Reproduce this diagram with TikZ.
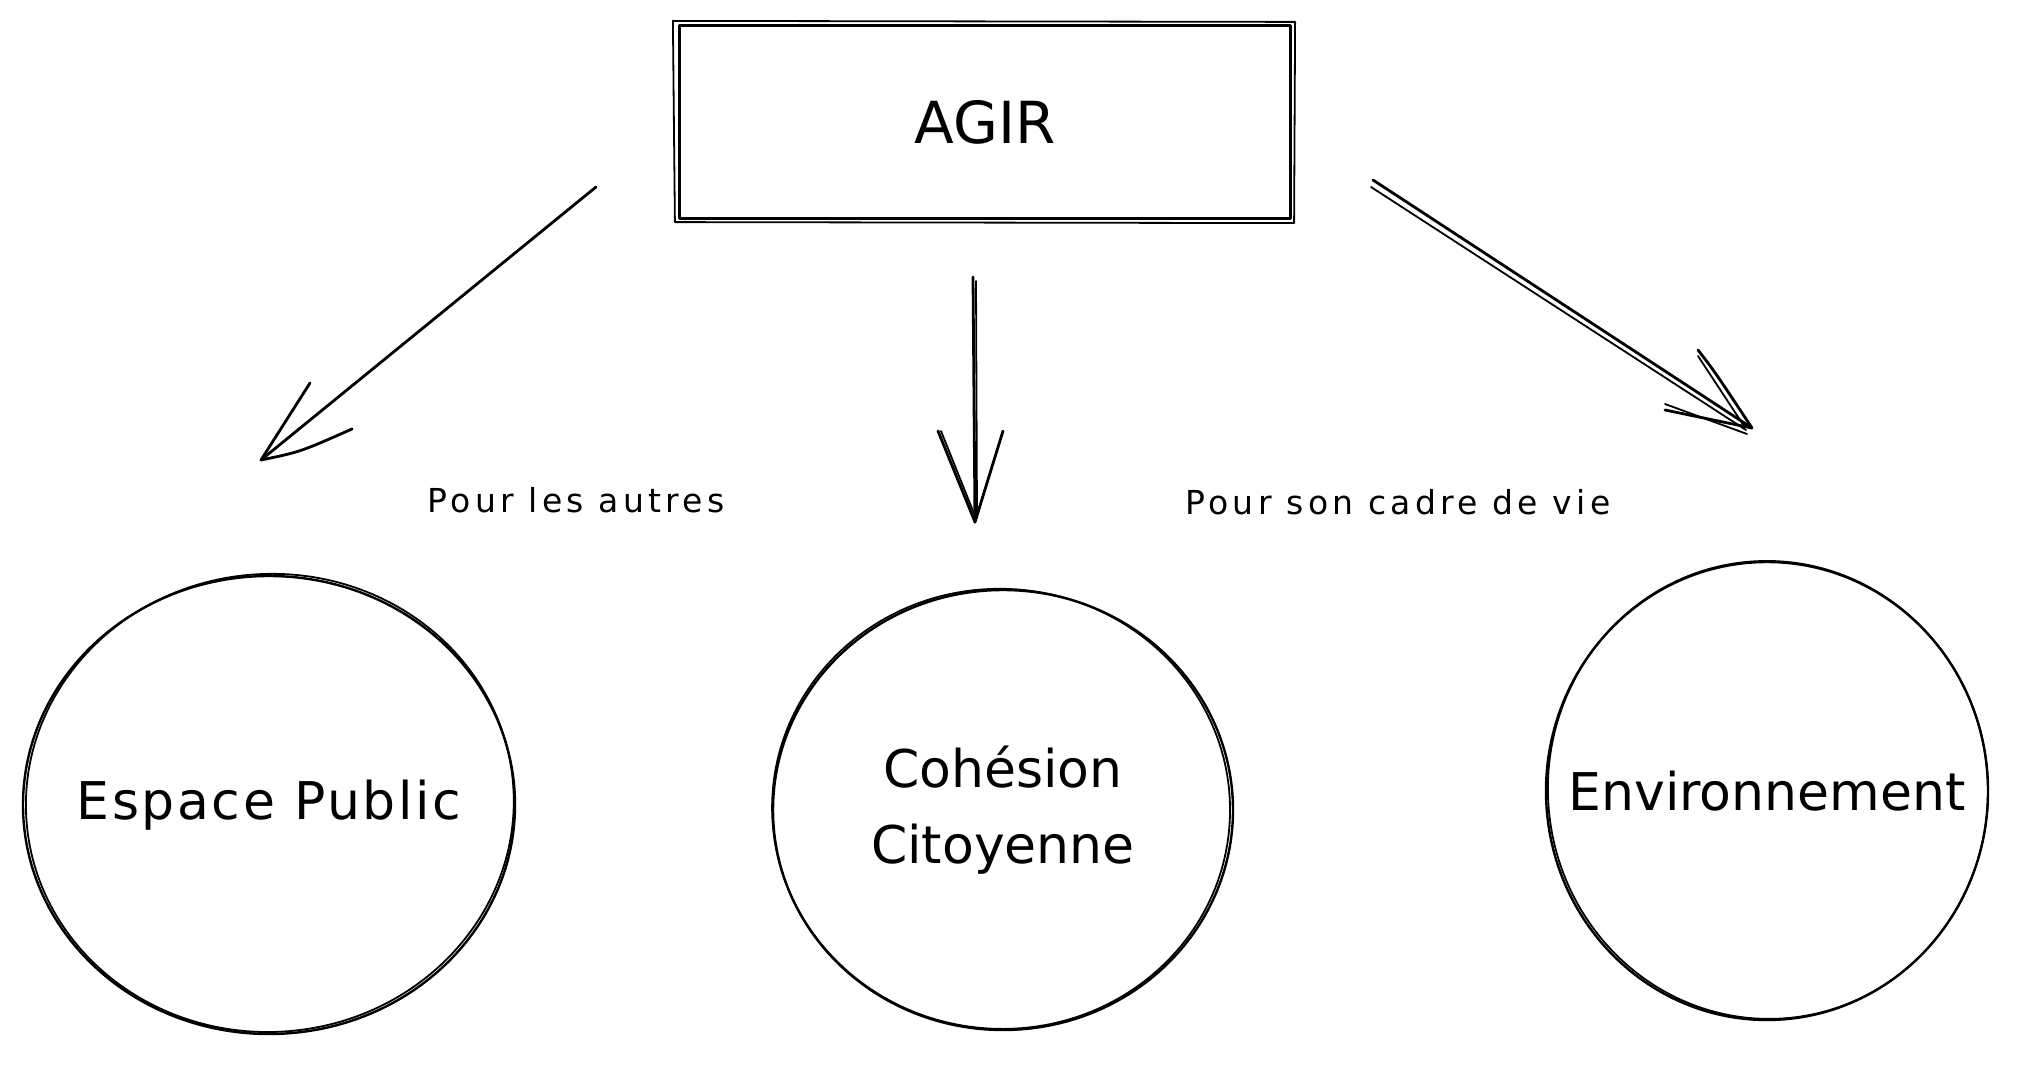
\documentclass[tikz,border=0pt]{standalone}
\usepackage{fontspec}
\setmainfont{DejaVu Sans}
\usetikzlibrary{shapes.geometric,calc}
\begin{document}
\begin{tikzpicture}[x=0.5pt,y=-0.5pt,
  sk/.style={line width=1.4pt, line cap=round, line join=round, black},
  thin sk/.style={line width=0.9pt, line cap=round, line join=round, black},
  bubble/.style={ellipse, draw, line width=1.2pt, inner sep=0pt},
  btext/.style={font=\fontsize{26}{38}\selectfont, align=center},
  lbl/.style={font=\fontsize{16.5}{20}\selectfont\addfontfeature{LetterSpace=13}, inner sep=0pt}]
\useasboundingbox (0,0) rectangle (2020,1065);
\fill[white] (0,0) rectangle (2020,1065);

% top box
\node[draw, sk, line width=1.6pt, minimum width=305.5pt, minimum height=96.5pt, inner sep=0pt,
      font=\fontsize{29}{34}\selectfont] (agir) at (985,122) {AGIR};
\draw[thin sk] ([shift={(-5,-3)}]agir.north west) -- ([shift={(3,-2)}]agir.north east)
  -- ([shift={(2,3)}]agir.south east) -- ([shift={(-3,2)}]agir.south west) -- cycle;

% bubbles
\node[bubble, minimum width=246pt, minimum height=229pt,
      label={[btext, font=\fontsize{26}{38}\selectfont\addfontfeature{LetterSpace=5}]center:Espace Public}] (c1) at (269,805) {};
\draw[thin sk, rotate around={4:(c1.center)}] ($(c1.center)+(1,-2)$) ellipse [x radius=244, y radius=229];

\node[bubble, minimum width=230pt, minimum height=220pt,
      label={[btext]center:Cohésion\\Citoyenne}] (c2) at (1003,810) {};
\draw[thin sk, rotate around={-4:(c2.center)}] ($(c2.center)+(-2,-1)$) ellipse [x radius=229, y radius=220];

\node[bubble, minimum width=221pt, minimum height=229pt,
      label={[btext]center:Environnement}] (c3) at (1767,791) {};
\draw[thin sk, rotate around={4:(c3.center)}] ($(c3.center)+(1,-1)$) ellipse [x radius=220, y radius=229];

% arrow coordinates
\coordinate (a1s) at (596,187);
\coordinate (a1e) at (261,460);
\coordinate (a1b1) at (310,383);
\coordinate (a1b2) at (352,429);

\coordinate (a2s) at (973,277);
\coordinate (a2e) at (975,522);
\coordinate (a2b1) at (938,431);
\coordinate (a2b2) at (1003,431);

\coordinate (a3s) at (1373,180);
\coordinate (a3e) at (1752,428);
\coordinate (a3b1) at (1698,350);
\coordinate (a3b2) at (1665,410);

% arrow 1
\draw[sk] (a1s) -- (a1e);
\draw[sk] (a1b1) -- (a1e) .. controls (300,452) .. (a1b2);

% arrow 2
\draw[sk] (a2s) -- (a2e);
\draw[thin sk] ([shift={(3,4)}]a2s) -- ([shift={(2,-4)}]a2e);
\draw[sk] (a2b1) -- (a2e) -- (a2b2);
\draw[thin sk] ([shift={(3,0)}]a2b1) -- ([shift={(0,-6)}]a2e);

% arrow 3
\draw[sk] (a3s) -- (a3e);
\draw[thin sk] ([shift={(-2,7)}]a3s) -- ([shift={(-6,2)}]a3e);
\draw[sk] (a3b1) .. controls (1715,372) .. (a3e) -- (a3b2);
\draw[thin sk] ([shift={(0,6)}]a3b1) -- ([shift={(-8,-2)}]a3e);
\draw[thin sk] ([shift={(0,-6)}]a3b2) -- ([shift={(-5,6)}]a3e);

% labels
\node[lbl] (l1) at (576,500) {Pour les autres};
\node[lbl] (l2) at (1398,502) {Pour son cadre de vie};
\end{tikzpicture}
\end{document}
